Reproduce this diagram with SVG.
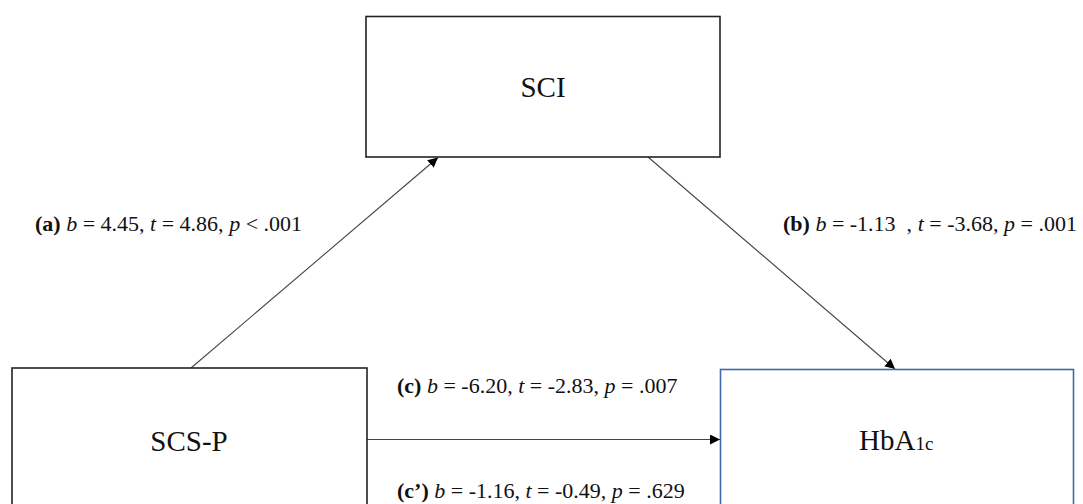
<svg xmlns="http://www.w3.org/2000/svg" width="1083" height="504" viewBox="0 0 1083 504">
  <style>
    .box { fill: #ffffff; stroke: #222222; stroke-width: 1.6; }
    .box-blue { fill: #ffffff; stroke: #4068AC; stroke-width: 1.6; }
    .node-text { font-family: "Liberation Serif", "Times New Roman", serif; font-size: 29px; fill: #111111; }
    .label { font-family: "Liberation Serif", "Times New Roman", serif; font-size: 22px; fill: #111111; }
    .b { font-weight: bold; }
    .i { font-style: italic; }
    .edge { stroke: #444444; stroke-width: 1.1; fill: none; }
  </style>
  <defs>
    <marker id="arrow" viewBox="0 0 10 10" refX="10" refY="5" markerWidth="10" markerHeight="10" markerUnits="userSpaceOnUse" orient="auto">
      <path d="M0,0 L10,5 L0,10 z" fill="#000000"/>
    </marker>
  </defs>
  <rect width="1083" height="504" fill="#ffffff"/>

  <!-- Connectors -->
  <g id="connectors">
    <line class="edge" x1="191" y1="368" x2="438" y2="157.5" marker-end="url(#arrow)"/>
    <line class="edge" x1="648" y1="157" x2="895" y2="369" marker-end="url(#arrow)"/>
    <line class="edge" x1="367" y1="439.5" x2="720" y2="439.5" marker-end="url(#arrow)"/>
  </g>

  <!-- Nodes -->
  <g id="node-sci">
    <rect class="box" x="366" y="16.5" width="354" height="140.5"/>
    <text class="node-text" x="543" y="97" text-anchor="middle">SCI</text>
  </g>
  <g id="node-scsp">
    <rect class="box" x="12" y="368" width="355" height="150"/>
    <text class="node-text" x="189" y="451" text-anchor="middle">SCS-P</text>
  </g>
  <g id="node-hba1c">
    <rect class="box-blue" x="720.5" y="369.5" width="353" height="150"/>
    <text class="node-text" x="859" y="450">HbA<tspan font-size="19px">1c</tspan></text>
  </g>

  <!-- Path coefficients -->
  <g id="labels">
    <text class="label" x="35" y="231"><tspan class="b">(a)</tspan> <tspan class="i">b</tspan> = 4.45, <tspan class="i">t</tspan> = 4.86, <tspan class="i">p</tspan> &lt; .001</text>
    <text class="label" x="783" y="231" xml:space="preserve"><tspan class="b">(b)</tspan> <tspan class="i">b</tspan> = -1.13  , <tspan class="i">t</tspan> = -3.68, <tspan class="i">p</tspan> = .001</text>
    <text class="label" x="397" y="393"><tspan class="b">(c)</tspan> <tspan class="i">b</tspan> = -6.20, <tspan class="i">t</tspan> = -2.83, <tspan class="i">p</tspan> = .007</text>
    <text class="label" x="397" y="498"><tspan class="b">(c’)</tspan> <tspan class="i">b</tspan> = -1.16, <tspan class="i">t</tspan> = -0.49, <tspan class="i">p</tspan> = .629</text>
  </g>
</svg>
